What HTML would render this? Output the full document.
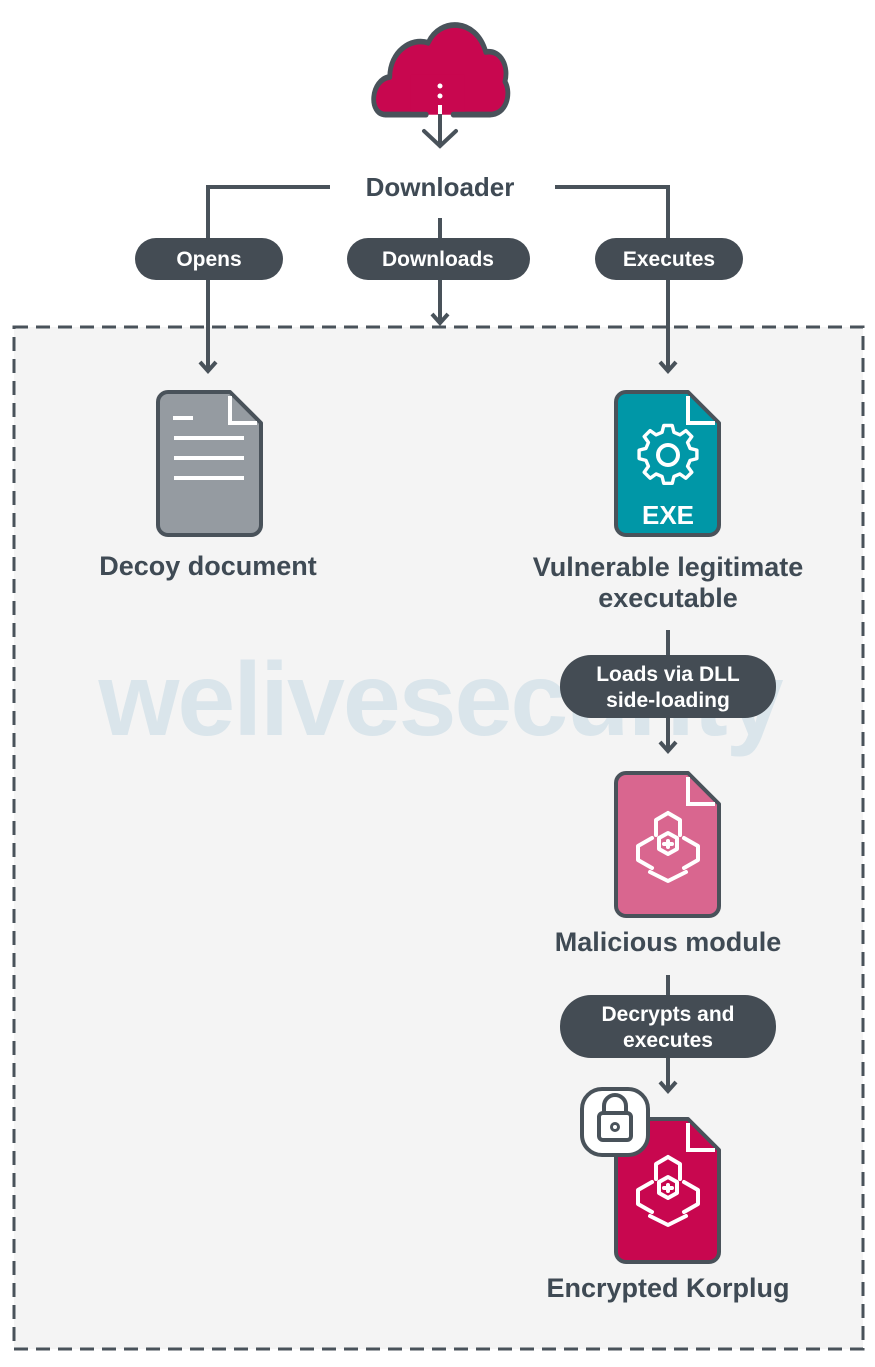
<!DOCTYPE html>
<html><head><meta charset="utf-8"><style>
html,body{margin:0;padding:0;background:#fff}
svg{display:block}
text{font-family:"Liberation Sans",sans-serif}
</style></head><body>
<svg width="875" height="1367" viewBox="0 0 875 1367" xmlns="http://www.w3.org/2000/svg">
<defs>
<path id="doc" d="M10,0 H72 L103,31 V133 a10,10 0 0 1 -10,10 H10 a10,10 0 0 1 -10,-10 V10 a10,10 0 0 1 10,-10Z"/>
<g id="bio" fill="none" stroke="#fff" stroke-width="4" stroke-linecap="round" stroke-linejoin="round">
<path d="M0,-30 L12,-23 V-8 M0,-30 L-12,-23 V-8"/>
<path d="M-16,-5 L-30,3 V17 L-16,25 M16,-5 L30,3 V17 L16,25"/>
<path d="M-18,29 L0,38 L18,29"/>
<path d="M-9,-5 L0,-10 L9,-5 V6 L0,11 L-9,6Z"/>
<path d="M0,-2 V4 M-4,1 H4"/>
</g>
</defs>
<rect x="14" y="327" width="849" height="1022" fill="#f4f4f4" stroke="#49525a" stroke-width="3" stroke-dasharray="14 8"/>
<text x="440" y="735" text-anchor="middle" font-size="104" font-weight="bold" fill="#dae5eb" letter-spacing="-2">welivesecurity</text>

<!-- cloud -->
<g transform="translate(0,20) scale(0.96,1.14) translate(18,-20)">
<path d="M410,103 H384 C365,103 368,72 388,70 C388,48 410,35 428,40 C440,18 478,18 488,48 C505,46 512,62 508,74 C515,84 510,103 492,103 H466" fill="#c8074f" stroke="#49525a" stroke-width="5" stroke-linejoin="round"/>
<path d="M410,103 H466 V68 H410Z" fill="#c8074f"/>
<path d="M384,103 H426 M454,103 H492" stroke="#49525a" stroke-width="5" fill="none" stroke-linecap="round"/>
</g>
<circle cx="440" cy="86" r="2.5" fill="#fff"/><circle cx="440" cy="96" r="2.5" fill="#fff"/>
<path d="M440,108 V146 M424,131 L440,146 L456,131" stroke="#49525a" stroke-width="4" fill="none" stroke-linecap="round"/>
<path d="M440,105 V114" stroke="#fff" stroke-width="4"/>

<text x="440" y="196" text-anchor="middle" font-size="26" font-weight="bold" fill="#3f4a54">Downloader</text>
<g stroke="#49525a" stroke-width="4" fill="none">
<path d="M330,187 H208 V370 M555,187 H668 V370 M440,218 V322"/>
<path d="M200,362 L208,371 L216,362 M660,362 L668,371 L676,362 M432,314 L440,323 L448,314"/>
<path d="M668,630 V750 M660,742 L668,751 L676,742 M668,975 V1090 M660,1082 L668,1091 L676,1082"/>
</g>
<g fill="#444c54">
<rect x="135" y="238" width="148" height="42" rx="21"/>
<rect x="347" y="238" width="183" height="42" rx="21"/>
<rect x="595" y="238" width="148" height="42" rx="21"/>
<rect x="560" y="655" width="216" height="63" rx="31"/>
<rect x="560" y="995" width="216" height="63" rx="31"/>
</g>
<g fill="#fff" font-size="21" font-weight="bold" text-anchor="middle">
<text x="209" y="266">Opens</text>
<text x="438" y="266">Downloads</text>
<text x="669" y="266">Executes</text>
<text x="668" y="681">Loads via DLL</text>
<text x="668" y="707">side-loading</text>
<text x="668" y="1021">Decrypts and</text>
<text x="668" y="1047">executes</text>
</g>

<!-- docs -->
<g stroke="#49525a" stroke-width="4" stroke-linejoin="round">
<use href="#doc" x="158" y="392" fill="#959ba1"/>
<use href="#doc" x="616" y="392" fill="#0097a7"/>
<use href="#doc" x="616" y="773" fill="#d9668f"/>
<use href="#doc" x="616" y="1119" fill="#c8074f"/>
</g>
<g stroke="#fff" stroke-width="4" fill="none">
<path d="M230,396 V423 H257 M688,396 V423 H715 M688,777 V804 H715 M688,1123 V1150 H715"/>
<path d="M173,418 H193 M174,438 H244 M174,458 H244 M174,478 H244"/>
</g>
<!-- gear -->
<g transform="translate(668,455)" fill="none" stroke="#fff" stroke-width="4" stroke-linejoin="round">
<path d="M-5,-30 H5 L7,-22 L14,-19 L21,-24 L28,-17 L23,-10 L26,-3 L34,-1 V9 L26,11 L23,18 L28,25 L21,32 L14,27 L7,30 L5,38 H-5 L-7,30 L-14,27 L-21,32 L-28,25 L-23,18 L-26,11 L-34,9 V-1 L-26,-3 L-23,-10 L-28,-17 L-21,-24 L-14,-19 L-7,-22Z" transform="translate(0,-4) scale(0.85)"/>
<circle cx="0" cy="0" r="10"/>
</g>
<text x="668" y="524" text-anchor="middle" font-size="26" font-weight="bold" fill="#fff">EXE</text>
<use href="#bio" x="668" y="843"/>
<use href="#bio" x="668" y="1187"/>
<!-- lock -->
<rect x="582" y="1089" width="66" height="66" rx="20" fill="#fff" stroke="#49525a" stroke-width="4"/>
<path d="M604,1113 V1106 a11,11 0 0 1 22,0 V1113" fill="none" stroke="#49525a" stroke-width="4"/>
<rect x="599" y="1113" width="32" height="27" rx="4" fill="none" stroke="#49525a" stroke-width="4"/>
<circle cx="615" cy="1127" r="3.5" fill="none" stroke="#49525a" stroke-width="3"/>

<g fill="#3f4a54" font-size="27" font-weight="bold" text-anchor="middle">
<text x="208" y="575">Decoy document</text>
<text x="668" y="576">Vulnerable legitimate</text>
<text x="668" y="607">executable</text>
<text x="668" y="951">Malicious module</text>
<text x="668" y="1297">Encrypted Korplug</text>
</g>
</svg>
</body></html>
